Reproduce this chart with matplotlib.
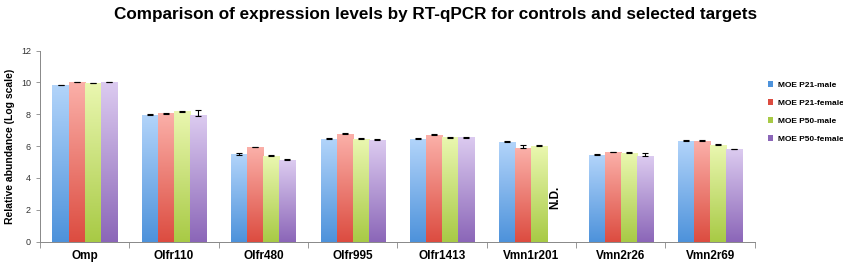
import matplotlib

matplotlib.use("Agg")
import matplotlib.pyplot as plt
import numpy as np
from matplotlib.colors import LinearSegmentedColormap
from matplotlib.patches import Patch

genes = ["Omp", "Olfr110", "Olfr480", "Olfr995", "Olfr1413", "Vmn1r201", "Vmn2r26", "Vmn2r69"]
series = ["MOE P21-male", "MOE P21-female", "MOE P50-male", "MOE P50-female"]

p21_male = [9.81, 7.97, 5.47, 6.45, 6.45, 6.26, 5.44, 6.34]
p21_female = [10.02, 8.04, 5.93, 6.74, 6.71, 5.90, 5.60, 6.33]
p50_male = [9.95, 8.17, 5.36, 6.46, 6.53, 6.00, 5.54, 6.05]
p50_female = [10.00, 7.92, 5.12, 6.40, 6.53, np.nan, 5.36, 5.80]

err_p21_male = [0.04, 0.05, 0.10, 0.04, 0.05, 0.05, 0.08, 0.06]
err_p21_female = [0.03, 0.03, 0.04, 0.08, 0.04, 0.16, 0.04, 0.03]
err_p50_male = [0.03, 0.04, 0.10, 0.05, 0.04, 0.06, 0.10, 0.06]
err_p50_female = [0.03, 0.36, 0.10, 0.06, 0.04, 0.0, 0.22, 0.04]

valores = [p21_male, p21_female, p50_male, p50_female]
erros = [err_p21_male, err_p21_female, err_p50_male, err_p50_female]

# (topo claro, base escura) de cada série
cores = [
    ("#b2d4fa", "#4d92db"),
    ("#fbb0a9", "#dc4c40"),
    ("#eaf7b0", "#a8ca45"),
    ("#dccbf0", "#8b66b8"),
]

plt.rcParams["font.family"] = ["Liberation Sans", "DejaVu Sans"]

fig = plt.figure(figsize=(8.43, 2.64), dpi=100)
ax = fig.add_axes([0.0474, 0.0845, 0.848, 0.724])

x = np.arange(len(genes))
largura = 0.18
desloc = (np.arange(4) - 1.5) * largura

for k in range(4):
    cmap = LinearSegmentedColormap.from_list(f"g{k}", [cores[k][1], cores[k][0]])
    grad = np.linspace(0, 1, 256).reshape(-1, 1)
    for i, v in enumerate(valores[k]):
        if np.isnan(v):
            continue
        x0 = x[i] + desloc[k] - largura / 2
        ax.imshow(grad, cmap=cmap, origin="lower", aspect="auto",
                  extent=(x0, x0 + largura, 0, v), zorder=2)
    ys = np.array(valores[k])
    ok = ~np.isnan(ys)
    ax.errorbar(x[ok] + desloc[k], ys[ok],
                yerr=[np.zeros(ok.sum()), np.array(erros[k])[ok]],
                fmt="none", ecolor="black", elinewidth=0.8, capsize=2.5, capthick=0.8, zorder=3)

ax.text(x[5] + desloc[3], 2.8, "N.D.", rotation=90, ha="center", va="center",
        fontsize=8.5, fontweight="bold")

ax.set_xlim(-0.5, len(genes) - 0.5)
ax.set_ylim(0, 12)
ax.set_yticks(range(0, 13, 2))
ax.tick_params(axis="y", labelsize=6.5, length=3, color="#888888", width=0.6,
               labelcolor="#333333")
ax.set_xticks(x)
ax.set_xticklabels(genes, fontsize=8.5, fontweight="bold")
ax.tick_params(axis="x", which="major", length=0, pad=6)
ax.set_xticks(np.arange(len(genes) + 1) - 0.5, minor=True)
ax.tick_params(axis="x", which="minor", length=4, color="#888888", width=0.6)
for lado in ("top", "right"):
    ax.spines[lado].set_visible(False)
for lado in ("left", "bottom"):
    ax.spines[lado].set_color("#888888")
    ax.spines[lado].set_linewidth(0.7)

ax.set_ylabel("Relative abundance (Log scale)", fontsize=7.5, fontweight="bold", labelpad=4)

fig.suptitle("Comparison of expression levels by RT-qPCR for controls and selected targets",
             x=0.517, y=0.975, fontsize=12.3, fontweight="bold")

handles = [Patch(facecolor=c[1], edgecolor="none") for c in cores]
fig.legend(handles, series, loc="center left", bbox_to_anchor=(0.911, 0.575),
           frameon=False, handlelength=0.6, handleheight=0.6,
           handletextpad=0.6, labelspacing=1.25, borderpad=0, borderaxespad=0,
           prop={"weight": "bold", "size": 6})

fig.savefig("out.png", dpi=100)
